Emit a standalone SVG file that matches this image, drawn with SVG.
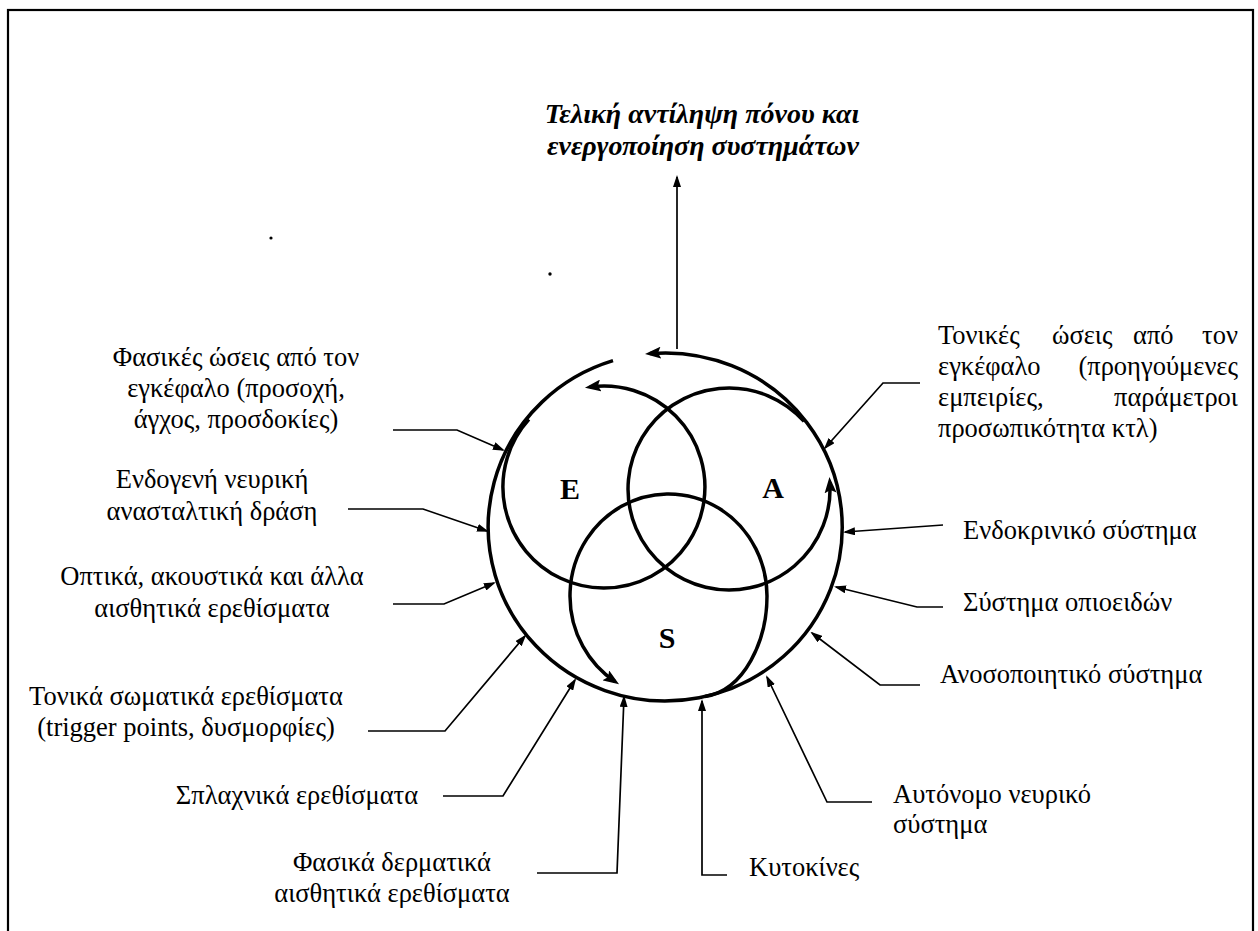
<svg xmlns="http://www.w3.org/2000/svg" width="1258" height="931" viewBox="0 0 1258 931">
<defs>
<marker id="sm" markerUnits="userSpaceOnUse" markerWidth="12" markerHeight="8" refX="10" refY="4" orient="auto"><path d="M0,0 L12,4 L0,8 z" fill="#000"/></marker>
<marker id="lg" markerUnits="userSpaceOnUse" markerWidth="16" markerHeight="12" refX="11" refY="6" orient="auto"><path d="M0,0 L16,6 L0,12 L3,6 z" fill="#000"/></marker>
</defs>
<style>
.t{font-family:"Liberation Serif","Times New Roman",serif;font-size:26.5px;fill:#000}
.c{text-anchor:middle}
.e{text-anchor:end}
.ttl{font-family:"Liberation Serif","Times New Roman",serif;font-size:28px;font-weight:bold;font-style:italic;text-anchor:middle}
.lt{font-family:"Liberation Serif","Times New Roman",serif;font-size:30px;font-weight:bold;text-anchor:middle}
.cn{fill:none;stroke:#000;stroke-width:1.7;marker-end:url(#sm)}
.ring{fill:none;stroke:#000;stroke-width:3.5;marker-end:url(#lg)}
</style>
<rect x="8" y="10" width="1245" height="940" fill="#fff" stroke="#000" stroke-width="2.2"/>
<circle cx="271" cy="238" r="1.6" fill="#000"/>
<circle cx="550" cy="274" r="1.7" fill="#000"/>
<g id="title">
<text class="ttl" x="702" y="123">Τελική αντίληψη πόνου και</text>
<text class="ttl" x="703" y="155">ενεργοποίηση συστημάτων</text>
</g>
<g id="rings">
<path class="ring" d="M613,360.7 A177,174 0 1 0 650,353.6"/>
<path class="ring" d="M528.9,419.4 A101,101 0 1 0 589.9,387"/>
<path class="ring" d="M804.1,421.4 A101,101 0 1 0 829.8,482"/>
<path class="ring" d="M705,696.5 C745,690 767,640 767,596 A98.5,102 0 1 0 614.9,681.5"/>
<text class="lt" x="570" y="499">E</text>
<text class="lt" x="773" y="498">A</text>
<text class="lt" x="667" y="648">S</text>
</g>
<g id="connectors">
<line class="cn" x1="677" y1="349" x2="677" y2="177"/>
<polyline class="cn" points="393,430 457,430 503,450"/>
<polyline class="cn" points="348,509 423,509 487,531"/>
<polyline class="cn" points="393,604 444,604 494,583"/>
<polyline class="cn" points="368,731 445,731 525,636"/>
<polyline class="cn" points="443,796 503,796 575,680"/>
<polyline class="cn" points="537,873 617,873 624,697"/>
<polyline class="cn" points="727,875 702,875 702,701"/>
<polyline class="cn" points="872,802 827,802 767,677"/>
<polyline class="cn" points="920,685 880,685 812,633"/>
<polyline class="cn" points="943,607 917,607 836,587"/>
<polyline class="cn" points="943,525 845,532"/>
<polyline class="cn" points="920,383 883,383 825,448"/>
</g>
<g id="label-fasikes-oseis">
<text class="t c" x="236" y="366">Φασικές ώσεις από τον</text>
<text class="t c" x="236" y="397">εγκέφαλο (προσοχή,</text>
<text class="t c" x="236" y="428">άγχος, προσδοκίες)</text>
</g>
<g id="label-endogeni">
<text class="t c" x="212" y="488">Ενδογενή νευρική</text>
<text class="t c" x="212" y="520">ανασταλτική δράση</text>
</g>
<g id="label-optika">
<text class="t c" x="212" y="585">Οπτικά, ακουστικά και άλλα</text>
<text class="t c" x="212" y="617">αισθητικά ερεθίσματα</text>
</g>
<g id="label-tonika-somatika">
<text class="t c" x="186" y="705">Τονικά σωματικά ερεθίσματα</text>
<text class="t c" x="186" y="736">(trigger points, δυσμορφίες)</text>
</g>
<g id="label-splaxnika">
<text class="t c" x="297" y="804">Σπλαχνικά ερεθίσματα</text>
</g>
<g id="label-fasika-dermatika">
<text class="t c" x="392" y="871">Φασικά δερματικά</text>
<text class="t c" x="392" y="902">αισθητικά ερεθίσματα</text>
</g>
<g id="label-kytokines">
<text class="t" x="749" y="876">Κυτοκίνες</text>
</g>
<g id="label-autonomo">
<text class="t" x="893" y="803">Αυτόνομο νευρικό</text>
<text class="t" x="893" y="833">σύστημα</text>
</g>
<g id="label-anosopoiitiko">
<text class="t" x="940" y="683">Ανοσοποιητικό σύστημα</text>
</g>
<g id="label-opioeidon">
<text class="t" x="963" y="611">Σύστημα οπιοειδών</text>
</g>
<g id="label-endokriniko">
<text class="t" x="963" y="539">Ενδοκρινικό σύστημα</text>
</g>
<g id="label-tonikes-oseis">
<text class="t" x="938" y="344">Τονικές</text>
<text class="t" x="1052" y="344">ώσεις</text>
<text class="t" x="1133" y="344">από</text>
<text class="t e" x="1238" y="344">τον</text>
<text class="t" x="938" y="375">εγκέφαλο</text>
<text class="t e" x="1238" y="375">(προηγούμενες</text>
<text class="t" x="938" y="406">εμπειρίες,</text>
<text class="t e" x="1238" y="406">παράμετροι</text>
<text class="t" x="938" y="437">προσωπικότητα κτλ)</text>
</g>
</svg>
